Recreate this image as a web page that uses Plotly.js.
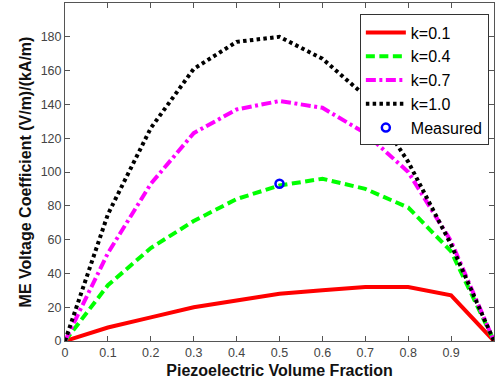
<!DOCTYPE html>
<html><head><meta charset="utf-8">
<script src="https://cdn.plot.ly/plotly-3.0.1.min.js"></script>
<style>html,body{margin:0;padding:0;background:#fff}#chart{width:497px;height:387px}</style>
</head><body><div id="chart"></div>
<script>
const xs = [0, 0.1, 0.2, 0.3, 0.4, 0.5, 0.6, 0.7, 0.8, 0.9, 1.0];
const k01 = [0, 8, 14, 20, 24, 28, 30, 32, 32, 27, 0];
const k04 = [0, 33, 55, 71, 84, 92, 96, 90, 79, 53, 0];
const k07 = [0, 52, 93, 123, 137, 142, 138, 123, 100, 59, 0];
const k10 = [0, 75, 126, 161, 177, 180, 167, 145, 106, 57, 0];
const measuredX = [0.5];
const measuredY = [93];
const names = ['k=0.1', 'k=0.4', 'k=0.7', 'k=1.0', 'Measured'];
const xTickText = ['0','0.1','0.2','0.3','0.4','0.5','0.6','0.7','0.8','0.9','1'];

const traces = [
  {x: xs, y: k01, name: names[0], mode: 'lines', line: {color: '#ff0000', width: 4}},
  {x: xs, y: k04, name: names[1], mode: 'lines', line: {color: '#00ff00', width: 4, dash: '9px,4.5px'}},
  {x: xs, y: k07, name: names[2], mode: 'lines', line: {color: '#ff00ff', width: 4, dash: '10px,3.5px,3px,3.5px'}},
  {x: xs, y: k10, name: names[3], mode: 'lines', line: {color: '#000000', width: 4, dash: '3.5px,3.3px'}},
  {x: measuredX, y: measuredY, name: names[4], mode: 'markers',
   marker: {symbol: 'circle-open', color: '#0000ff', size: 8, line: {width: 2.5, color: '#0000ff'}}}
];

const axisCommon = {
  showgrid: false, zeroline: false, showline: true, linecolor: '#555', linewidth: 1,
  mirror: 'ticks', ticks: 'inside', ticklen: 5, tickcolor: '#555',
  tickfont: {family: 'Liberation Sans, Arial, sans-serif', size: 12.5, color: '#444'}
};

const layout = {
  width: 497, height: 387,
  margin: {l: 65, r: 3, t: 3, b: 46},
  paper_bgcolor: '#fff', plot_bgcolor: '#fff',
  font: {family: 'Liberation Sans, Arial, sans-serif', color: '#000'},
  xaxis: Object.assign({}, axisCommon, {
    range: [0, 1], tickvals: xs, ticktext: xTickText,
    title: {text: '<b>Piezoelectric Volume Fraction</b>', font: {size: 16, color: '#111'}, standoff: 5}
  }),
  yaxis: Object.assign({}, axisCommon, {
    range: [0, 200], dtick: 20,
    title: {text: '<b>ME Voltage Coefficient (V/m)/(kA/m)</b>', font: {size: 16, color: '#111'}, standoff: 5}
  }),
  showlegend: true,
  legend: {
    x: 0.988, xanchor: 'right', y: 0.966, yanchor: 'top',
    bgcolor: '#fff', bordercolor: '#333', borderwidth: 1,
    font: {size: 16, color: '#000'}, itemwidth: 40
  }
};

Plotly.newPlot('chart', traces, layout, {displayModeBar: false, staticPlot: true});
</script></body></html>
